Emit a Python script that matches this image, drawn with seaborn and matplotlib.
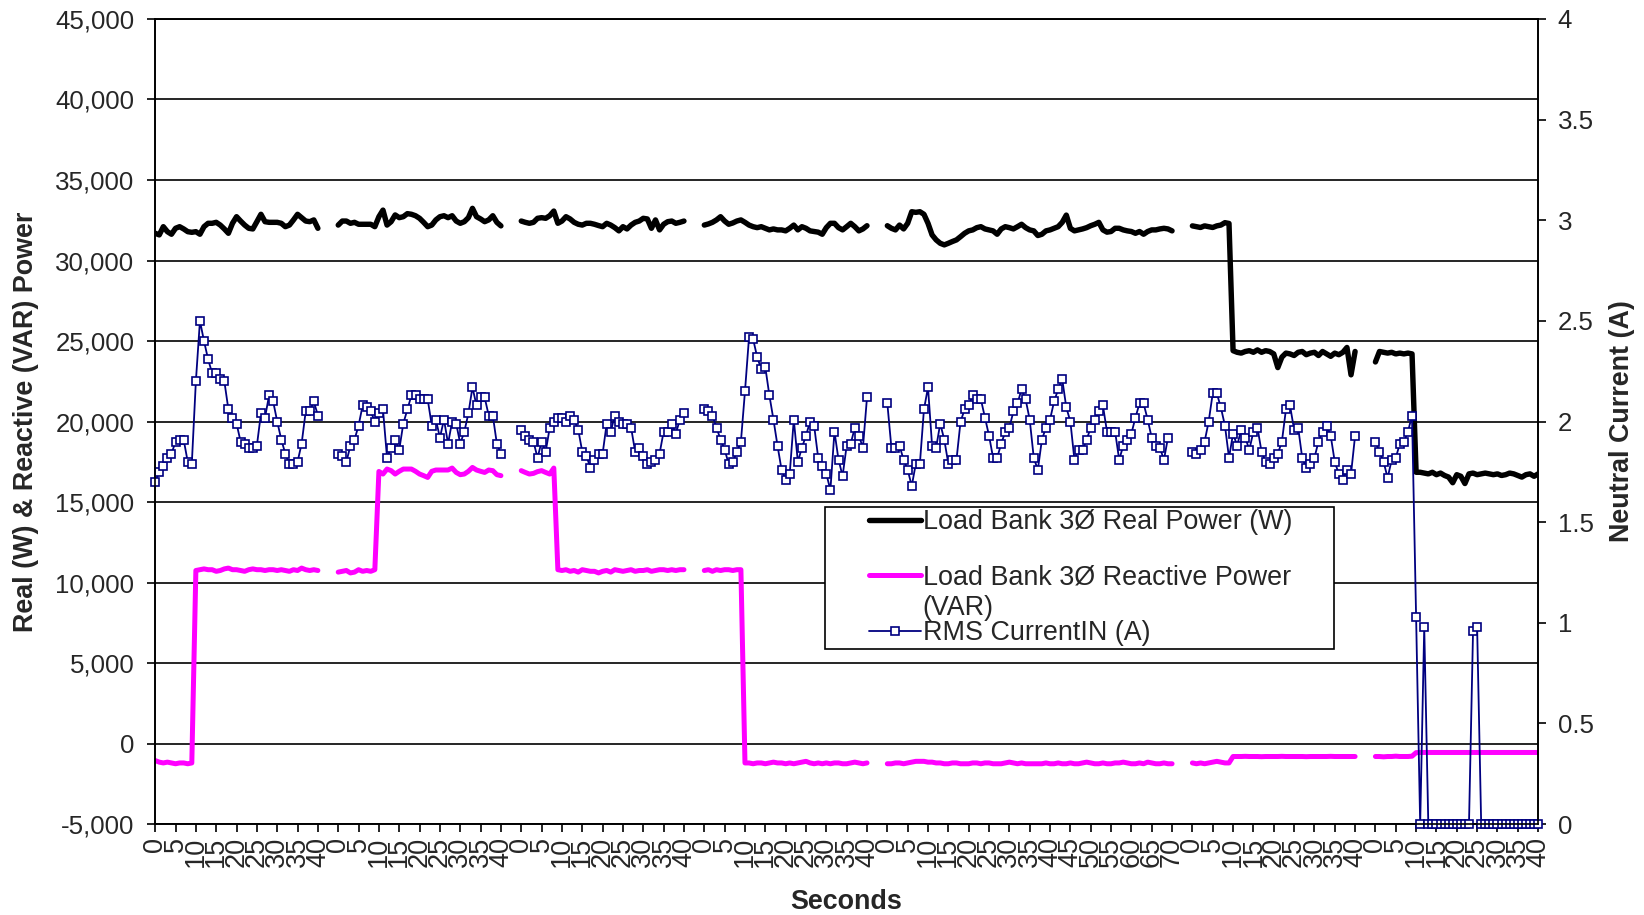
import numpy as np
import pandas as pd
import matplotlib
matplotlib.use("Agg")
import matplotlib.pyplot as plt
import seaborn as sns
from matplotlib.lines import Line2D
from matplotlib.legend_handler import HandlerLine2D
from matplotlib.ticker import FuncFormatter

# seconds covered by each load-bank run on the category axis
run_seconds = [40, 40, 40, 40, 70, 40, 40]
run_gap = 5  # blank categories between runs

# Load Bank 3-phase real power (W), one list per run
real1 = [31690, 31590, 32100, 31790, 31630, 32000, 32100, 31960, 31790, 31750,
         31790, 31630, 32100, 32310, 32310, 32370, 32200, 31960, 31690, 32310,
         32720, 32450, 32200, 32000, 31960, 32410, 32870, 32410, 32370, 32370,
         32370, 32310, 32100, 32200, 32520, 32870, 32660, 32450, 32410, 32520, 32000]
real2 = [32200, 32450, 32450, 32310, 32370, 32250, 32250, 32250, 32250, 32100,
         32720, 33130, 32200, 32410, 32830, 32660, 32720, 32910, 32870, 32780,
         32620, 32370, 32100, 32200, 32520, 32720, 32780, 32660, 32780, 32450,
         32310, 32410, 32660, 33240, 32720, 32580, 32410, 32520, 32780, 32370, 32150]
real3 = [32450, 32370, 32310, 32370, 32620, 32660, 32620, 32780, 33070, 32310,
         32450, 32720, 32580, 32370, 32250, 32200, 32310, 32310, 32250, 32170,
         32100, 32310, 32200, 32040, 31840, 32100, 31960, 32200, 32370, 32450,
         32620, 32580, 32000, 32520, 31900, 32250, 32410, 32450, 32310, 32370, 32450]
real4 = [32200, 32270, 32370, 32520, 32720, 32450, 32250, 32330, 32450, 32520,
         32370, 32200, 32100, 32040, 32100, 32000, 31900, 31960, 31900, 31900,
         31840, 32000, 32200, 31900, 32100, 32000, 31840, 31800, 31760, 31630,
         32040, 32310, 32310, 32040, 31900, 32100, 32310, 32100, 31840, 31960, 32160]
real5 = [32160, 32000, 31900, 32200, 31960, 32310, 33030, 32990, 33030, 32870,
         32310, 31590, 31280, 31070, 30970, 31070, 31180, 31280, 31480, 31690,
         31840, 31900, 32040, 32100, 31960, 31900, 31840, 31630, 31960, 32100,
         32040, 31960, 32100, 32250, 32040, 31900, 31840, 31550, 31630, 31840,
         31900, 32000, 32100, 32370, 32820, 32000, 31840, 31900, 31960, 32040,
         32160, 32250, 32370, 31900, 31760, 31800, 32000, 32000, 31900, 31840,
         31800, 31690, 31800, 31630, 31800, 31900, 31900, 31960, 32000, 31960, 31840]
real6 = [32150, 32100, 32050, 32150, 32100, 32050, 32150, 32200, 32350, 32300,
         24400, 24300, 24250, 24350, 24400, 24300, 24450, 24300, 24400, 24350,
         24200, 23350, 24000, 24250, 24200, 24100, 24300, 24350, 24150, 24250,
         24300, 24100, 24350, 24200, 24050, 24250, 24150, 24300, 24600, 22900, 24350]
real7 = [23700, 24350, 24300, 24250, 24300, 24200, 24250, 24200, 24250, 24200,
         16850, 16850, 16800, 16750, 16850, 16700, 16800, 16650, 16550, 16200,
         16700, 16600, 16150, 16750, 16800, 16700, 16750, 16800, 16750, 16700,
         16750, 16650, 16700, 16800, 16750, 16650, 16550, 16700, 16750, 16600, 16750]

# Load Bank 3-phase reactive power (VAR)
react1 = [-1050, -1150, -1200, -1150, -1200, -1250, -1200, -1200, -1250, -1200,
          10750, 10800, 10850, 10800, 10800, 10700, 10750, 10850, 10900, 10800,
          10800, 10750, 10700, 10800, 10850, 10800, 10800, 10750, 10800, 10800,
          10750, 10800, 10750, 10700, 10800, 10750, 10900, 10800, 10750, 10800, 10750]
react2 = [10650, 10700, 10750, 10600, 10650, 10800, 10700, 10750, 10700, 10800,
          16900, 16740, 17050, 16950, 16740, 16910, 17050, 17050, 17050, 16910,
          16740, 16640, 16530, 16910, 16990, 16990, 16990, 16990, 17110, 16840,
          16700, 16740, 16910, 17150, 16990, 16910, 16840, 16990, 16950, 16700, 16640]
react3 = [16950, 16840, 16740, 16780, 16890, 16950, 16840, 16740, 17110, 10800,
          10750, 10800, 10700, 10750, 10650, 10800, 10750, 10700, 10700, 10600,
          10700, 10750, 10650, 10800, 10750, 10700, 10750, 10800, 10700, 10750,
          10750, 10800, 10700, 10750, 10800, 10800, 10750, 10800, 10750, 10800, 10800]
react4 = [10750, 10800, 10700, 10800, 10750, 10800, 10800, 10750, 10800, 10800,
          -1200, -1200, -1250, -1200, -1200, -1250, -1200, -1150, -1200, -1200,
          -1250, -1200, -1250, -1200, -1150, -1100, -1200, -1250, -1200, -1250,
          -1200, -1250, -1200, -1200, -1250, -1250, -1200, -1150, -1200, -1250, -1200]
react5 = [-1250, -1250, -1200, -1200, -1250, -1200, -1150, -1100, -1100, -1100,
          -1150, -1150, -1200, -1200, -1250, -1250, -1200, -1200, -1250, -1250,
          -1250, -1200, -1200, -1250, -1200, -1200, -1250, -1250, -1250, -1200,
          -1150, -1200, -1250, -1200, -1250, -1250, -1250, -1250, -1250, -1200,
          -1250, -1250, -1200, -1250, -1250, -1200, -1250, -1250, -1200, -1150,
          -1200, -1250, -1250, -1200, -1250, -1250, -1200, -1200, -1150, -1200,
          -1250, -1250, -1200, -1250, -1150, -1200, -1250, -1250, -1200, -1250, -1250]
react6 = [-1200, -1250, -1200, -1250, -1200, -1150, -1100, -1150, -1200, -1200,
          -800, -800, -800, -790, -800, -800, -800, -810, -800, -800,
          -800, -800, -790, -800, -800, -800, -800, -800, -810, -800,
          -800, -800, -800, -800, -790, -800, -800, -800, -800, -800, -800]
react7 = [-800, -800, -820, -800, -800, -780, -800, -800, -800, -780,
          -560, -550, -550, -550, -550, -550, -550, -550, -550, -550,
          -550, -550, -550, -550, -550, -550, -550, -550, -550, -550,
          -550, -550, -550, -550, -550, -550, -550, -550, -550, -550, -550]

# RMS neutral current (A), right axis
cur1 = [1.70, 1.75, 1.78, 1.82, 1.84, 1.90, 1.91, 1.91, 1.80, 1.79,
        2.20, 2.50, 2.40, 2.31, 2.24, 2.24, 2.21, 2.20, 2.06, 2.02,
        1.99, 1.90, 1.89, 1.87, 1.87, 1.88, 2.04, 2.02, 2.13, 2.10,
        2.00, 1.91, 1.84, 1.79, 1.79, 1.80, 1.89, 2.05, 2.05, 2.10, 2.03]
cur2 = [1.84, 1.83, 1.80, 1.88, 1.91, 1.98, 2.08, 2.07, 2.05, 2.00,
        2.04, 2.06, 1.82, 1.87, 1.91, 1.86, 1.99, 2.06, 2.13, 2.13,
        2.11, 2.11, 2.11, 1.98, 2.01, 1.92, 2.01, 1.89, 2.00, 1.99,
        1.89, 1.95, 2.04, 2.17, 2.08, 2.12, 2.12, 2.03, 2.03, 1.89, 1.84]
cur3 = [1.96, 1.93, 1.91, 1.90, 1.82, 1.90, 1.85, 1.97, 2.00, 2.02,
        2.02, 2.00, 2.03, 2.01, 1.96, 1.85, 1.83, 1.77, 1.81, 1.84,
        1.84, 1.99, 1.95, 2.03, 2.00, 1.99, 1.99, 1.97, 1.85, 1.87,
        1.83, 1.79, 1.80, 1.81, 1.84, 1.95, 1.95, 1.99, 1.94, 2.01, 2.04]
cur4 = [2.06, 2.05, 2.03, 1.97, 1.91, 1.86, 1.79, 1.80, 1.85, 1.90,
        2.15, 2.42, 2.41, 2.32, 2.26, 2.27, 2.13, 2.01, 1.88, 1.76,
        1.71, 1.74, 2.01, 1.80, 1.87, 1.93, 2.00, 1.98, 1.82, 1.78,
        1.74, 1.66, 1.95, 1.81, 1.73, 1.88, 1.89, 1.97, 1.93, 1.87, 2.12]
cur5 = [2.09, 1.87, 1.87, 1.88, 1.81, 1.76, 1.68, 1.79, 1.79, 2.06,
        2.17, 1.88, 1.87, 1.99, 1.91, 1.79, 1.81, 1.81, 2.00, 2.06,
        2.08, 2.13, 2.11, 2.11, 2.02, 1.93, 1.82, 1.82, 1.89, 1.95,
        1.97, 2.05, 2.09, 2.16, 2.11, 2.01, 1.82, 1.76, 1.91, 1.97,
        2.01, 2.10, 2.16, 2.21, 2.07, 2.00, 1.81, 1.86, 1.86, 1.91,
        1.97, 2.01, 2.05, 2.08, 1.95, 1.95, 1.95, 1.81, 1.88, 1.91,
        1.94, 2.02, 2.09, 2.09, 2.01, 1.92, 1.88, 1.87, 1.81, 1.92]
cur6 = [1.85, 1.84, 1.86, 1.90, 2.00, 2.14, 2.14, 2.07, 1.98, 1.82,
        1.94, 1.88, 1.96, 1.92, 1.86, 1.95, 1.97, 1.85, 1.80, 1.79,
        1.82, 1.84, 1.90, 2.06, 2.08, 1.96, 1.97, 1.82, 1.77, 1.79,
        1.82, 1.90, 1.95, 1.98, 1.93, 1.80, 1.74, 1.71, 1.76, 1.74, 1.93]
cur7 = [1.90, 1.85, 1.80, 1.72, 1.81, 1.82, 1.89, 1.90, 1.95, 2.03,
        1.03, 0.00, 0.98, 0.00, 0.00, 0.00, 0.00, 0.00, 0.00, 0.00,
        0.00, 0.00, 0.00, 0.00, 0.96, 0.98, 0.00, 0.00, 0.00, 0.00,
        0.00, 0.00, 0.00, 0.00, 0.00, 0.00, 0.00, 0.00, 0.00, 0.00, 0.00]

real_runs = [real1, real2, real3, real4, real5, real6, real7]
react_runs = [react1, react2, react3, react4, react5, react6, react7]
cur_runs = [cur1, cur2, cur3, cur4, cur5, cur6, cur7]

legend_labels = ["Load Bank 3Ø Real Power (W)",
                 "Load Bank 3Ø Reactive Power",
                 "RMS CurrentIN (A)"]


def to_frame(runs, name):
    # one row per second, runs laid end to end with blank categories between
    rows = []
    start = 0
    for k, (vals, secs) in enumerate(zip(runs, run_seconds)):
        for i, v in enumerate(vals):
            rows.append((k, start + i, v))
        start += secs + run_gap
    return pd.DataFrame(rows, columns=["run", "pos", name])


df_real = to_frame(real_runs, "real")
df_react = to_frame(react_runs, "react")
df_cur = to_frame(cur_runs, "cur")

# category tick labels: every 5 s inside each run
tick_pos, tick_lab = [], []
start = 0
for secs in run_seconds:
    for s in range(0, secs + 1, 5):
        tick_pos.append(start + s)
        tick_lab.append(str(s))
    start += secs + run_gap


class RightLine(HandlerLine2D):
    # draw the legend sample only in the right part of the handle box
    def get_xdata(self, legend, xdescent, ydescent, width, height, fontsize):
        seg = 1.93 * fontsize
        x1 = -xdescent + width
        return [x1 - seg, x1], [x1 - seg / 2]


sns.set_style("white")
plt.rcParams["font.family"] = ["Liberation Sans", "DejaVu Sans"]

fig = plt.figure(figsize=(16.44, 9.15), dpi=100)
ax = fig.add_axes([0.0944, 0.0993, 0.8412, 0.8800])
ax2 = ax.twinx()

sns.lineplot(data=df_react, x="pos", y="react", units="run", estimator=None,
             color="#FF00FF", linewidth=3.6, ax=ax, legend=False)
sns.lineplot(data=df_real, x="pos", y="real", units="run", estimator=None,
             color="black", linewidth=3.9, ax=ax, legend=False)
sns.lineplot(data=df_cur, x="pos", y="cur", units="run", estimator=None,
             color="#000080", linewidth=1.3, marker="s", markersize=6,
             markerfacecolor="white", markeredgecolor="#000080",
             markeredgewidth=1.2, clip_on=False, ax=ax2, legend=False)

ax.set_xlim(0, tick_pos[-1])
ax.set_ylim(-5000, 45000)
ax2.set_ylim(0, 4)

ax.set_yticks(np.arange(-5000, 45001, 5000))
ax.yaxis.set_major_formatter(FuncFormatter(lambda v, p: f"{v:,.0f}"))
ax2.set_yticks(np.arange(0, 4.01, 0.5))
ax2.yaxis.set_major_formatter(FuncFormatter(lambda v, p: f"{v:g}"))
ax.set_xticks(tick_pos)
ax.set_xticklabels(tick_lab)

ax.grid(axis="y", color="black", linewidth=1.2)
ax.grid(axis="x", visible=False)
for a in (ax, ax2):
    for sp in a.spines.values():
        sp.set_color("black")
        sp.set_linewidth(1.2)

ax.tick_params(axis="x", labelsize=19.5, labelrotation=90, pad=3,
               length=6, width=1.2, direction="out", color="black", bottom=True)
ax.tick_params(axis="y", labelsize=18.6, pad=9, length=6, width=1.2,
               direction="out", color="black", left=True)
ax2.tick_params(axis="y", labelsize=18.6, pad=8, length=6, width=1.2,
                direction="out", color="black", right=True)

ax.set_xlabel("Seconds", fontsize=19.4, fontweight="bold")
ax.xaxis.set_label_coords(0.5, -0.080)
ax.set_ylabel("Real (W) & Reactive (VAR) Power", fontsize=19.4, fontweight="bold")
ax.yaxis.set_label_coords(-0.084, 0.5)
ax2.set_ylabel("Neutral Current (A)", fontsize=19.4, fontweight="bold")
ax2.yaxis.set_label_coords(1.0513, 0.5)

handles = [Line2D([], [], color="black", linewidth=3.9),
           Line2D([], [], color="#FF00FF", linewidth=3.6),
           Line2D([], [], color="#000080", linewidth=1.3, marker="s",
                  markersize=6, markerfacecolor="white",
                  markeredgecolor="#000080", markeredgewidth=1.2)]
leg = ax2.legend(handles, legend_labels, loc="upper left",
                 bbox_to_anchor=(0.4843, 0.2238, 0.368, 0.170), mode="expand",
                 borderaxespad=0, borderpad=0.08, labelspacing=1.1,
                 handlelength=3.5, handletextpad=0.05, fontsize=19.4,
                 fancybox=False, framealpha=1, edgecolor="black",
                 handler_map={Line2D: RightLine()})
leg.get_frame().set_linewidth(1.2)

# second line of the reactive power label, placed under its first line
fig.canvas.draw()
bb = leg.get_texts()[1].get_window_extent()
x0, y0 = ax2.transAxes.inverted().transform((bb.x0, bb.y0 - 4))
ax2.text(x0, y0, "(VAR)", transform=ax2.transAxes, ha="left", va="top",
         fontsize=19.4, zorder=10)

fig.savefig("out.png", dpi=100, facecolor="white")
